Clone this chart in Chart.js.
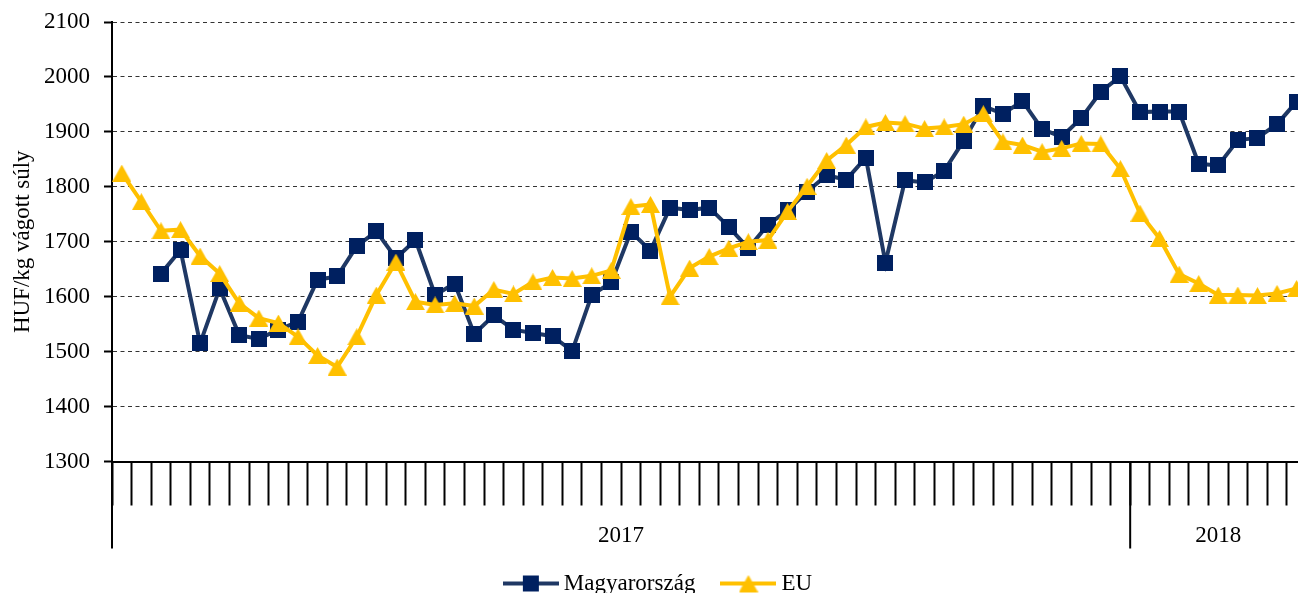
<!DOCTYPE html>
<html>
<head>
<meta charset="utf-8">
<script src="https://cdn.jsdelivr.net/npm/chart.js@4/dist/chart.umd.min.js"></script>
<style>
    html, body { margin: 0; padding: 0; background: #fff; overflow: hidden; }
    #wrap { width: 1310px; height: 605px; }
</style>
</head>
<body>
<div id="wrap"><canvas id="priceChart" width="1310" height="605"></canvas></div>
<script>
// weekly slaughter pig prices, HUF/kg carcass weight
const years = ["2017", "2018"];
const weeksPerYear = [52, 9];

const magyarorszag = [
    null, null, 1642, 1685, 1515, 1615, 1530, 1523, 1540, 1554,
    1631, 1637, 1692, 1719, 1670, 1703, 1603, 1624, 1532, 1566,
    1540, 1534, 1528, 1501, 1603, 1626, 1718, 1684, 1762, 1758,
    1762, 1727, 1688, 1731, 1757, 1791, 1821, 1813, 1853, 1662,
    1812, 1808, 1829, 1884, 1947, 1933, 1956, 1905, 1891, 1925,
    1973, 2001, 1936, 1937, 1937, 1842, 1839, 1885, 1889, 1914,
    1955
];

const eu = [
    1825, 1773, 1720, 1722, 1674, 1642, 1588, 1561, 1552, 1527,
    1493, 1472, 1527, 1603, 1663, 1591, 1585, 1588, 1583, 1613,
    1605, 1627, 1635, 1633, 1638, 1648, 1764, 1768, 1600, 1652,
    1673, 1688, 1700, 1703, 1755, 1801, 1848, 1876, 1909, 1917,
    1915, 1906, 1909, 1914, 1933, 1882, 1876, 1864, 1870, 1879,
    1878, 1833, 1752, 1706, 1641, 1624, 1603, 1603, 1602, 1606,
    1615
];

const seriesNames = ["Magyarország", "EU"];
const yMin = 1300;
const yMax = 2100;
const yStep = 100;

const FONT = "'Liberation Serif', 'Times New Roman', serif";
const NAVY_LINE = "#1F3864";
const NAVY = "#002060";
const GOLD = "#FFC000";

// week labels, e.g. "2017/1"
const labels = years.flatMap((y, k) =>
    Array.from({ length: weeksPerYear[k] }, (_, w) => y + "/" + (w + 1)));

function squareMarker(color, size) {
    const c = document.createElement("canvas");
    c.width = size; c.height = size;
    const g = c.getContext("2d");
    g.fillStyle = color;
    g.fillRect(0, 0, size, size);
    return c;
}

function triangleMarker(color, w, h) {
    const c = document.createElement("canvas");
    c.width = w; c.height = h;
    const g = c.getContext("2d");
    g.fillStyle = color;
    g.beginPath();
    g.moveTo(w / 2, 0);
    g.lineTo(w, h);
    g.lineTo(0, h);
    g.closePath();
    g.fill();
    return c;
}

// legend symbol: line segment with the marker in the middle
function legendIcon(lineColor, marker) {
    const c = document.createElement("canvas");
    c.width = 56; c.height = 20;
    const g = c.getContext("2d");
    g.strokeStyle = lineColor;
    g.lineWidth = 4;
    g.beginPath();
    g.moveTo(0, 10);
    g.lineTo(56, 10);
    g.stroke();
    g.drawImage(marker, 28 - marker.width / 2, 10 - marker.height / 2);
    return c;
}

const squareImg = squareMarker(NAVY, 16);
const triangleImg = triangleMarker(GOLD, 19, 17);
const legendIcons = [legendIcon(NAVY_LINE, squareImg), legendIcon(GOLD, triangleImg)];

// year separators and year labels under the week ticks
const yearAxis = {
    id: "yearAxis",
    afterDraw(chart) {
        const { ctx, chartArea, scales: { x } } = chart;
        const step = x.getPixelForValue(1) - x.getPixelForValue(0);
        ctx.save();
        ctx.strokeStyle = "#000";
        ctx.lineWidth = 2;
        ctx.fillStyle = "#000";
        ctx.font = "23px " + FONT;
        ctx.textAlign = "center";
        ctx.textBaseline = "alphabetic";
        let start = 0;
        years.forEach((year, k) => {
            const left = x.getPixelForValue(start) - step / 2;
            const end = start + weeksPerYear[k] - 1;
            const right = Math.min(x.getPixelForValue(end) + step / 2, chartArea.right);
            ctx.beginPath();
            ctx.moveTo(left, chartArea.bottom);
            ctx.lineTo(left, chartArea.bottom + 87);
            ctx.stroke();
            ctx.fillText(year, (left + right) / 2, chartArea.bottom + 80);
            start += weeksPerYear[k];
        });
        ctx.restore();
    }
};

new Chart(document.getElementById("priceChart"), {
    type: "line",
    data: {
        labels: labels,
        datasets: [{
            label: seriesNames[0],
            data: magyarorszag,
            borderColor: NAVY_LINE,
            backgroundColor: NAVY,
            borderWidth: 4,
            pointStyle: squareImg,
            pointRadius: 8,
            tension: 0,
            order: 1
        }, {
            label: seriesNames[1],
            data: eu,
            borderColor: GOLD,
            backgroundColor: GOLD,
            borderWidth: 4,
            pointStyle: triangleImg,
            pointRadius: 9,
            tension: 0,
            order: 0
        }]
    },
    options: {
        responsive: false,
        animation: false,
        layout: { autoPadding: false, padding: { top: 22, left: 15, right: 3.6, bottom: 0 } },
        plugins: {
            tooltip: { enabled: false },
            legend: {
                position: "bottom",
                labels: {
                    usePointStyle: true,
                    pointStyleWidth: 43,
                    padding: 31.5,
                    color: "#000",
                    font: { family: FONT, size: 23 },
                    generateLabels: chart => chart.data.datasets.map((ds, i) => ({
                        text: ds.label,
                        pointStyle: legendIcons[i],
                        datasetIndex: i,
                        hidden: false,
                        lineWidth: 0
                    }))
                }
            }
        },
        scales: {
            x: {
                type: "category",
                offset: true,
                afterFit: scale => { scale.height = 79; },
                ticks: { display: false, autoSkip: false },
                grid: {
                    offset: true,
                    drawOnChartArea: false,
                    drawTicks: true,
                    tickLength: 44,
                    tickColor: "#000",
                    tickWidth: 2
                },
                border: { color: "#000", width: 2 }
            },
            y: {
                min: yMin,
                max: yMax,
                afterFit: scale => {
                    scale.width = 97;
                    scale.paddingTop = 0;
                    scale.paddingBottom = 0;
                },
                ticks: {
                    stepSize: yStep,
                    color: "#000",
                    padding: 14,
                    font: { family: FONT, size: 23 },
                    callback: v => String(v)
                },
                title: {
                    display: true,
                    text: "HUF/kg vágott súly",
                    color: "#000",
                    padding: { top: -4, bottom: 0 },
                    font: { family: FONT, size: 23, lineHeight: 1 }
                },
                grid: {
                    color: c => c.tick && c.tick.value === yMin ? "rgba(0,0,0,0)" : "#333",
                    lineWidth: 1,
                    drawTicks: true,
                    tickLength: 8,
                    tickColor: "#000",
                    tickWidth: 2
                },
                border: { color: "#000", width: 2, dash: [4, 3.5] }
            }
        }
    },
    plugins: [yearAxis]
});
</script>
</body>
</html>
